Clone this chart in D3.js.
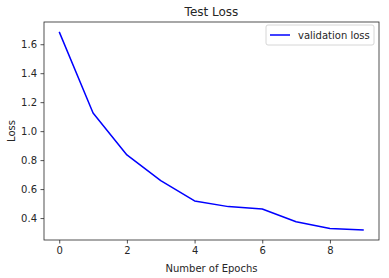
<!DOCTYPE html>
<html>
<head>
<meta charset="utf-8">
<script src="https://cdn.jsdelivr.net/npm/d3@7"></script>
<style>
  body { margin: 0; background: #fff; }
  text { font-family: "DejaVu Sans", sans-serif; fill: #262626; }
</style>
</head>
<body>
<div id="target"></div>
<script>
let width = 389,
  height = 278,
  margin = { top: 22, right: 10, bottom: 38, left: 44 }

let epochs = [0, 1, 2, 3, 4, 5, 6, 7, 8, 9]
let valLoss = [1.685, 1.125, 0.836, 0.658, 0.518, 0.479, 0.463, 0.375, 0.328, 0.317]
let xTicks = [0, 2, 4, 6, 8]
let yTicks = [0.4, 0.6, 0.8, 1.0, 1.2, 1.4, 1.6]

let innerW = width - margin.left - margin.right,
  innerH = height - margin.top - margin.bottom

let svg = d3.select("#target").append("svg")
  .attr("width", width)
  .attr("height", height)

let g = svg.append("g")
  .attr("transform", "translate(" + margin.left + "," + margin.top + ")")

// matplotlib-style 5% padding
let xPad = (d3.max(epochs) - d3.min(epochs)) * 0.05
let yPad = (d3.max(valLoss) - d3.min(valLoss)) * 0.05
let x = d3.scaleLinear()
  .domain([d3.min(epochs) - xPad, d3.max(epochs) + xPad])
  .range([0, innerW])
let y = d3.scaleLinear()
  .domain([d3.min(valLoss) - yPad, d3.max(valLoss) + yPad])
  .range([innerH, 0])

let xAxis = d3.axisBottom(x).tickValues(xTicks).tickSize(3.5).tickPadding(3.5)
  .tickFormat(d3.format("d"))
let yAxis = d3.axisLeft(y).tickValues(yTicks).tickSize(3.5).tickPadding(3.5)
  .tickFormat(d3.format(".1f"))

let xg = g.append("g")
  .attr("transform", "translate(0," + innerH + ")")
  .call(xAxis)
let yg = g.append("g").call(yAxis)

;[xg, yg].forEach(a => {
  a.select(".domain").remove()
  a.selectAll("line").attr("stroke", "#262626").attr("stroke-width", 0.8)
  a.selectAll("text").style("font-size", "10px").attr("fill", "#262626")
    .style("font-family", "DejaVu Sans")
})

let line = d3.line()
  .x((d, i) => x(epochs[i]))
  .y(d => y(d))

g.append("path")
  .datum(valLoss)
  .attr("fill", "none")
  .attr("stroke", "#0000ff")
  .attr("stroke-width", 1.5)
  .attr("stroke-linejoin", "round")
  .attr("d", line)

// frame
g.append("rect")
  .attr("width", innerW)
  .attr("height", innerH)
  .attr("fill", "none")
  .attr("stroke", "#262626")
  .attr("stroke-width", 0.8)

// title & labels
svg.append("text")
  .attr("x", margin.left + innerW / 2)
  .attr("y", margin.top - 6)
  .attr("text-anchor", "middle")
  .style("font-size", "12px")
  .text("Test Loss")

svg.append("text")
  .attr("x", margin.left + innerW / 2)
  .attr("y", height - 6)
  .attr("text-anchor", "middle")
  .style("font-size", "10px")
  .text("Number of Epochs")

svg.append("text")
  .attr("transform", "translate(15," + (margin.top + innerH / 2) + ") rotate(-90)")
  .attr("text-anchor", "middle")
  .style("font-size", "10px")
  .text("Loss")

// legend
let lg = g.append("g").attr("transform", "translate(" + (innerW - 113) + ",3)")
lg.append("rect")
  .attr("width", 108)
  .attr("height", 20)
  .attr("rx", 2)
  .attr("fill", "#fff")
  .attr("fill-opacity", 0.8)
  .attr("stroke", "#cccccc")
  .attr("stroke-width", 0.8)
lg.append("line")
  .attr("x1", 4).attr("x2", 24)
  .attr("y1", 10).attr("y2", 10)
  .attr("stroke", "#0000ff")
  .attr("stroke-width", 1.5)
lg.append("text")
  .attr("x", 32)
  .attr("y", 14)
  .style("font-size", "10px")
  .text("validation loss")
</script>
</body>
</html>
